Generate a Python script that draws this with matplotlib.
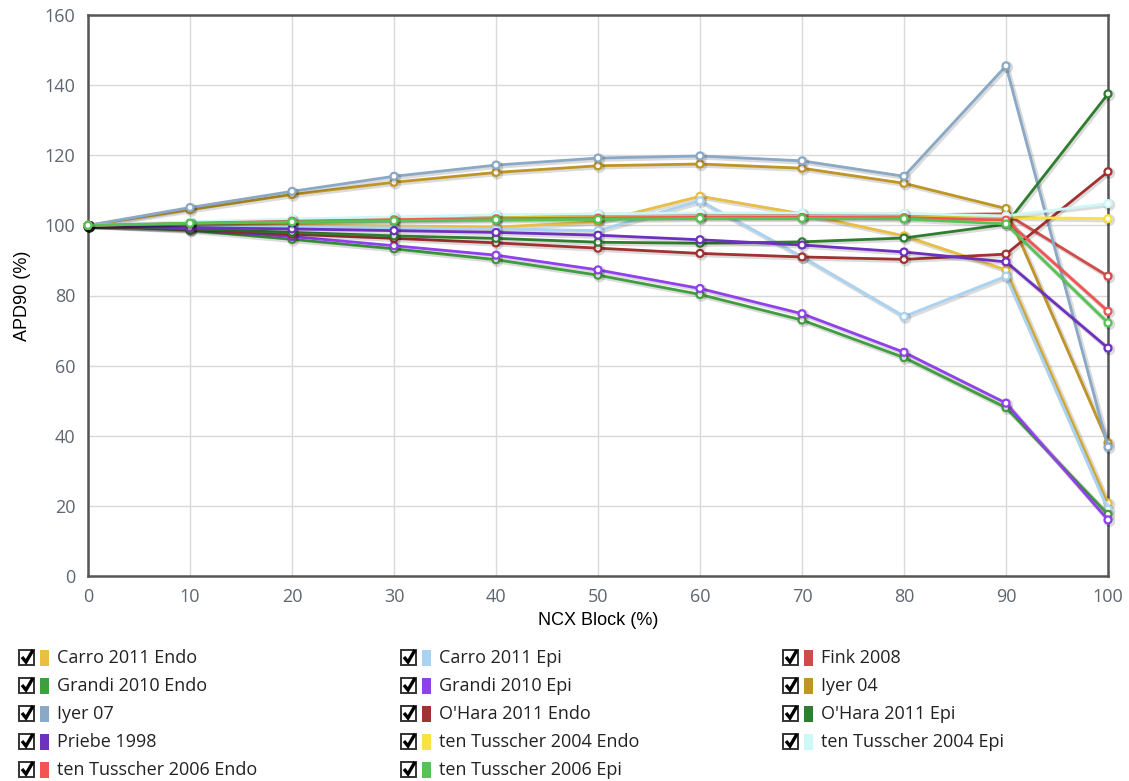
import matplotlib
matplotlib.use("Agg")
import matplotlib.pyplot as plt
import matplotlib.patheffects as pe
from matplotlib.patches import Rectangle
from matplotlib.lines import Line2D

# ---------------- data ----------------
ncx_block = [0, 10, 20, 30, 40, 50, 60, 70, 80, 90, 100]

carro_2011_endo = [100, 100, 100, 99.8, 99.5, 101, 108.3, 103.3, 97, 87.3, 20.8]
carro_2011_epi = [100, 99.8, 99.5, 99.3, 99, 98.5, 107, 91, 74, 85.5, 19]
fink_2008 = [100, 100.8, 101.5, 102, 102.5, 102.8, 103, 103, 103, 103.3, 85.5]
grandi_2010_endo = [100, 98.6, 96, 93.3, 90.2, 85.8, 80.3, 73, 62.3, 48, 17.6]
grandi_2010_epi = [100, 99, 96.8, 94.2, 91.5, 87.3, 82, 74.8, 63.8, 49.3, 16]
iyer_04 = [100, 104.5, 108.8, 112.3, 115.1, 117, 117.5, 116.3, 112, 104.8, 38]
iyer_07 = [100, 105.1, 109.7, 114, 117.2, 119.2, 119.8, 118.4, 114, 145.5, 36.8]
ohara_2011_endo = [100, 98.8, 97.5, 96.3, 95, 93.5, 92, 91, 90.3, 91.8, 115.3]
ohara_2011_epi = [100, 99, 98, 97, 96.3, 95.2, 94.9, 95.3, 96.4, 100.3, 137.5]
priebe_1998 = [100, 99.3, 99, 98.5, 98, 97.2, 95.9, 94.4, 92.4, 89.6, 65]
tt2004_endo = [100, 100.7, 101.3, 101.8, 102.2, 102.5, 102.6, 102.6, 102.5, 102.3, 101.9]
tt2004_epi = [100, 101, 101.8, 102.4, 103, 103.3, 103.5, 103.5, 103.4, 102.7, 106.2]
tt2006_endo = [100, 100.6, 101.2, 101.6, 101.9, 102.1, 102.3, 102.3, 102.2, 101.5, 75.5]
tt2006_epi = [100, 100.6, 101, 101.3, 101.6, 101.7, 102, 102, 101.9, 100.4, 72.2]

series_names = ["Carro 2011 Endo", "Carro 2011 Epi", "Fink 2008",
                "Grandi 2010 Endo", "Grandi 2010 Epi", "Iyer 04",
                "Iyer 07", "O'Hara 2011 Endo", "O'Hara 2011 Epi",
                "Priebe 1998", "ten Tusscher 2004 Endo", "ten Tusscher 2004 Epi",
                "ten Tusscher 2006 Endo", "ten Tusscher 2006 Epi"]
series_values = [carro_2011_endo, carro_2011_epi, fink_2008,
                 grandi_2010_endo, grandi_2010_epi, iyer_04,
                 iyer_07, ohara_2011_endo, ohara_2011_epi,
                 priebe_1998, tt2004_endo, tt2004_epi,
                 tt2006_endo, tt2006_epi]
series_colors = ["#E9BE42", "#A9D3F2", "#D14B4B",
                 "#3F9E3F", "#9140EE", "#BF9526",
                 "#8AA9C6", "#A23131", "#2F7D2F",
                 "#6E31BF", "#FBE141", "#CCF8F8",
                 "#F25454", "#55C455"]

x_ticks = [0, 10, 20, 30, 40, 50, 60, 70, 80, 90, 100]
y_ticks = [0, 20, 40, 60, 80, 100, 120, 140, 160]

# ---------------- figure ----------------
W, H = 1129, 781
fig = plt.figure(figsize=(W / 100, H / 100), dpi=100)
L, R, T, B = 88, 1108, 15, 576
ax = fig.add_axes([L / W, 1 - B / H, (R - L) / W, (B - T) / H])

shadow = [pe.SimpleLineShadow(offset=(1, -1), shadow_color="black", alpha=0.14, linewidth=3.4),
          pe.Normal()]
for i, (name, vals, col) in enumerate(zip(series_names, series_values, series_colors)):
    ax.plot(ncx_block, vals, color=col, lw=2.0, marker="o", markersize=5,
            markerfacecolor="white", markeredgecolor=col, markeredgewidth=1.6,
            zorder=3 + i, path_effects=shadow, clip_on=False)

ax.set_xlim(0, 100)
ax.set_ylim(0, 160)
ax.set_xticks(x_ticks)
ax.set_yticks(y_ticks)
ax.grid(True, color="#D9D9D9", lw=1.0, zorder=0)
ax.set_axisbelow(True)
for s in ax.spines.values():
    s.set_color("#555555")
    s.set_linewidth(1.8)
ax.tick_params(length=0, labelsize=13, labelcolor="#5F6670", pad=9)
for lab in ax.get_xticklabels() + ax.get_yticklabels():
    lab.set_family("Open Sans")

ax.set_xlabel("NCX Block (%)", fontsize=13, family="Liberation Sans", color="black", labelpad=4)
ax.set_ylabel("APD90 (%)", fontsize=13, family="Liberation Sans", color="black", labelpad=10)

# ---------------- custom legend ----------------
def px(x, y):
    return x / W, 1 - y / H

col_x = [18, 400, 782]
row_y = [658, 686, 714, 742, 770]
for i, (name, col) in enumerate(zip(series_names, series_values and series_colors)):
    r, c = divmod(i, 3)
    x0 = col_x[c]
    yc = row_y[r]
    # checkbox
    bx, by = px(x0 + 1, yc + 7)
    fig.patches.append(Rectangle((bx, by), 15 / W, 15 / H, transform=fig.transFigure,
                                 facecolor="white", edgecolor="#333333", lw=1.4))
    cx = [x0 + 4, x0 + 8, x0 + 15]
    cy = [yc - 1, yc + 4, yc - 8]
    fig.lines.append(Line2D([v / W for v in cx], [1 - v / H for v in cy],
                            transform=fig.transFigure, color="black", lw=2.4,
                            solid_capstyle="butt", solid_joinstyle="miter"))
    # colour swatch
    sx, sy = px(x0 + 22, yc + 8)
    fig.patches.append(Rectangle((sx, sy), 9 / W, 16 / H, transform=fig.transFigure,
                                 facecolor=col, edgecolor="none"))
    tx, ty = px(x0 + 39, yc)
    fig.text(tx, ty, name, fontsize=13, family="Open Sans",
             va="center", ha="left", color="#222222")

fig.savefig("out.png", dpi=100)
